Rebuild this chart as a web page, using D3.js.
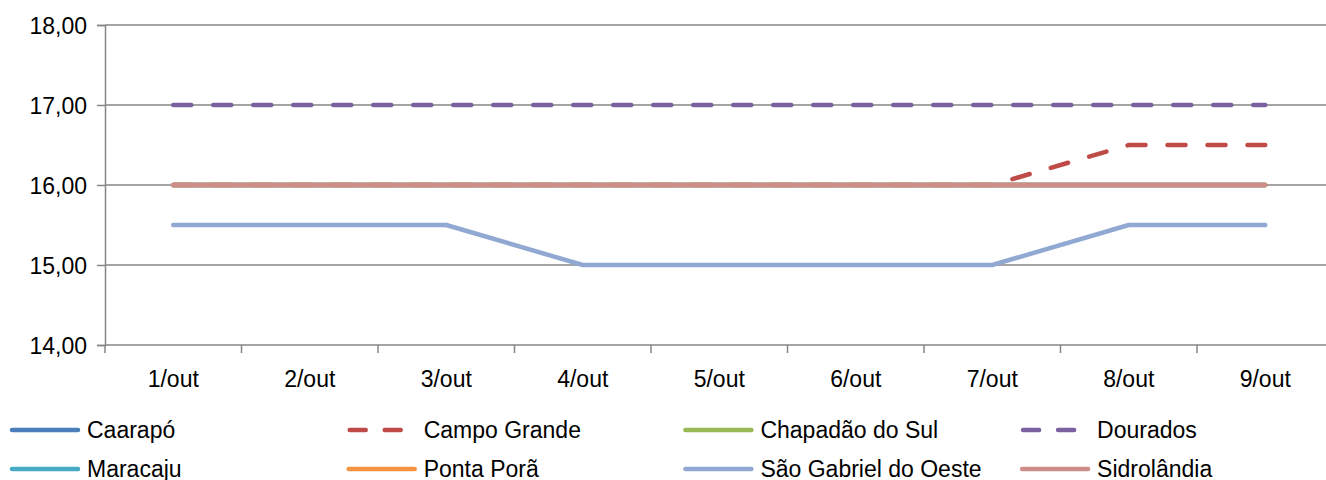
<!DOCTYPE html>
<html>
<head>
<meta charset="utf-8">
<script src="https://cdn.jsdelivr.net/npm/d3@7"></script>
<style>
    body { margin: 0; background: #fff; }
    svg { display: block; font-family: "Liberation Sans", Arial, sans-serif; }
</style>
</head>
<body>
<div id="chart"></div>
<script>
// Data
const days = ['1/out', '2/out', '3/out', '4/out', '5/out', '6/out', '7/out', '8/out', '9/out']
const yTicks = [14, 15, 16, 17, 18]

const caarapo = [16, 16, 16, 16, 16, 16, 16, 16, 16]
const campoGrande = [16, 16, 16, 16, 16, 16, 16, 16.5, 16.5]
const chapadao = [16, 16, 16, 16, 16, 16, 16, 16, 16]
const dourados = [17, 17, 17, 17, 17, 17, 17, 17, 17]
const maracaju = [16, 16, 16, 16, 16, 16, 16, 16, 16]
const pontaPora = [16, 16, 16, 16, 16, 16, 16, 16, 16]
const saoGabriel = [15.5, 15.5, 15.5, 15, 15, 15, 15, 15.5, 15.5]
const sidrolandia = [16, 16, 16, 16, 16, 16, 16, 16, 16]

const seriesNames = ['Caarapó', 'Campo Grande', 'Chapadão do Sul', 'Dourados',
    'Maracaju', 'Ponta Porã', 'São Gabriel do Oeste', 'Sidrolândia']
const seriesValues = [caarapo, campoGrande, chapadao, dourados,
    maracaju, pontaPora, saoGabriel, sidrolandia]

// styling per series
const colors = ['#4a7ebb', '#be4b48', '#98b954', '#7d60a0',
    '#46aac5', '#f69240', '#91a9d2', '#cf8d89']
const dashed = [false, true, false, true, false, false, false, false]

const series = seriesNames.map((name, i) => ({
    name,
    values: seriesValues[i],
    color: colors[i],
    dashed: dashed[i]
}))

const dimensions = {
    width: 1326,
    height: 480
}

const plot = {
    left: 105,
    top: 25,
    bottom: 345,
    band: 136.5
}

const svg = d3.select('#chart')
    .append('svg')
    .attr('width', dimensions.width)
    .attr('height', dimensions.height)

// scales
const x = d3.scaleBand()
    .domain(days)
    .range([plot.left, plot.left + plot.band * days.length])

const y = d3.scaleLinear()
    .domain([14, 18])
    .range([plot.bottom, plot.top])

const gridColor = '#868686'
const fmt = d => d3.format('.2f')(d).replace('.', ',')

// horizontal gridlines
svg.append('g')
    .selectAll('line')
    .data(yTicks)
    .join('line')
    .attr('x1', plot.left)
    .attr('x2', x.range()[1])
    .attr('y1', d => y(d))
    .attr('y2', d => y(d))
    .attr('stroke', gridColor)
    .attr('stroke-width', 1.5)

// y axis
const yAxis = svg.append('g')
    .attr('transform', `translate(${plot.left},0)`)
    .call(d3.axisLeft(y).tickValues(yTicks).tickFormat(fmt).tickSize(8).tickPadding(10))
yAxis.select('.domain').attr('stroke', gridColor).attr('stroke-width', 1.5)
yAxis.selectAll('.tick line').attr('stroke', gridColor).attr('stroke-width', 1.5)
yAxis.selectAll('text')
    .attr('font-size', 23)
    .attr('fill', '#000')
    .attr('dy', '0.35em')

// x axis: ticks between categories, labels centered
const xAxis = svg.append('g')
    .attr('transform', `translate(0,${plot.bottom})`)
    .call(d3.axisBottom(x).tickSize(0).tickPadding(30))
xAxis.select('.domain').remove()
xAxis.selectAll('text')
    .attr('font-size', 23)
    .attr('fill', '#000')
    .attr('dy', '0.5em')

const boundaries = days.map(d => x(d)).concat([x.range()[1]])
svg.append('g')
    .selectAll('line')
    .data(boundaries)
    .join('line')
    .attr('x1', d => d)
    .attr('x2', d => d)
    .attr('y1', plot.bottom)
    .attr('y2', plot.bottom + 8)
    .attr('stroke', gridColor)
    .attr('stroke-width', 1.5)

// lines
const line = d3.line()
    .x((d, i) => x(days[i]) + x.bandwidth() / 2)
    .y(d => y(d))

svg.append('g')
    .selectAll('path')
    .data(series)
    .join('path')
    .attr('d', d => line(d.values))
    .attr('fill', 'none')
    .attr('stroke', d => d.color)
    .attr('stroke-width', 4.5)
    .attr('stroke-linecap', 'round')
    .attr('stroke-linejoin', 'round')
    .attr('stroke-dasharray', d => d.dashed ? '18 22' : null)

// legend, 4 columns x 2 rows
const legend = svg.append('g')
    .selectAll('g')
    .data(series)
    .join('g')
    .attr('transform', (d, i) => `translate(${10 + (i % 4) * 336.7},${i < 4 ? 430 : 469})`)

legend.append('line')
    .attr('x1', d => d.dashed ? 3 : 2)
    .attr('x2', d => d.dashed ? 55 : 68)
    .attr('stroke', d => d.color)
    .attr('stroke-width', 4.5)
    .attr('stroke-linecap', 'round')
    .attr('stroke-dasharray', d => d.dashed ? '16 19' : null)

legend.append('text')
    .attr('x', 77)
    .attr('dy', '0.35em')
    .attr('font-size', 23)
    .attr('fill', '#000')
    .text(d => d.name)
</script>
</body>
</html>
